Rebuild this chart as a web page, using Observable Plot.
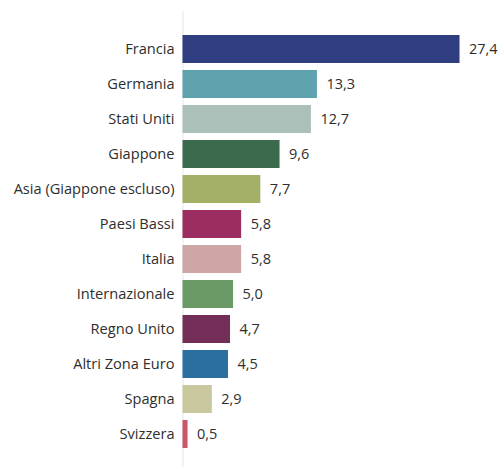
<!DOCTYPE html>
<html>
<head>
<meta charset="utf-8">
<script src="https://cdn.jsdelivr.net/npm/d3@7"></script>
<script src="https://cdn.jsdelivr.net/npm/@observablehq/plot@0.6"></script>
<style>
  html, body { margin: 0; padding: 0; background: #fff; }
</style>
</head>
<body>
<div id="chart"></div>
<script>
const categories = ["Francia", "Germania", "Stati Uniti", "Giappone", "Asia (Giappone escluso)", "Paesi Bassi", "Italia", "Internazionale", "Regno Unito", "Altri Zona Euro", "Spagna", "Svizzera"];
const values = [27.4, 13.3, 12.7, 9.6, 7.7, 5.8, 5.8, 5.0, 4.7, 4.5, 2.9, 0.5];
const colors = ["#2f3e80", "#5fa3ae", "#abc0b8", "#3c6a4c", "#a3b065", "#9b2d60", "#cfa6a6", "#6b9a66", "#742f58", "#2a6fa0", "#c8c79e", "#c9566a"];

const data = categories.map((c, i) => ({name: c, value: values[i], color: colors[i]}));
const fmt = v => v.toFixed(1).replace(".", ",");

const chart = Plot.plot({
  width: 499,
  height: 467,
  marginLeft: 182.5,
  marginRight: 39.5,
  marginTop: 11,
  marginBottom: 0,
  style: {fontFamily: "'Open Sans', sans-serif", fontSize: "14.6px", color: "#333", background: "#fff"},
  x: {domain: [0, 27.4], axis: null},
  y: {domain: categories, range: [31, 452.5], paddingInner: 0.19, paddingOuter: 0, axis: null},
  marks: [
    Plot.ruleX([0], {stroke: "#e6e6e6", strokeWidth: 1}),
    Plot.barX(data, {x: "value", y: "name", fill: "color"}),
    Plot.text(data, {x: 0, y: "name", text: "name", textAnchor: "end", dx: -8.5, fill: "#2e2e2e", fontSize: 14.6}),
    Plot.text(data, {x: "value", y: "name", text: d => fmt(d.value), textAnchor: "start", dx: 9, fill: "#2e2e2e", fontSize: 14.5})
  ]
});
document.getElementById("chart").appendChild(chart);
</script>
</body>
</html>
